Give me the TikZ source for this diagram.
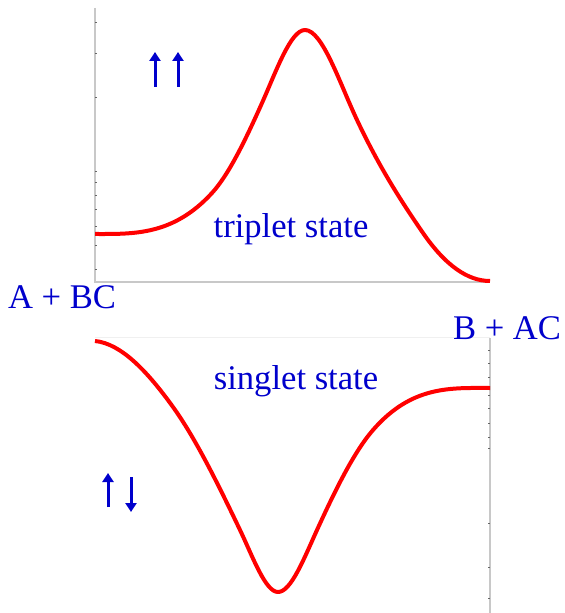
\documentclass[tikz,border=0pt]{standalone}
\usepackage{fontspec}
\setmainfont{Liberation Serif}
\usetikzlibrary{arrows.meta}
\definecolor{spinblue}{RGB}{0,0,204}
\definecolor{axisgray}{RGB}{200,200,200}
\begin{document}
\begin{tikzpicture}[x=0.5pt, y=-0.5pt,
    label/.style={text=spinblue, font=\fontsize{17.3}{20}\selectfont, inner sep=0pt},
    curve/.style={red, line width=2pt, line join=round},
    axis/.style={axisgray, line width=1pt},
    spin/.style={spinblue, line width=1.5pt, -{Triangle[width=5.5pt,length=4.5pt]}}]
      \useasboundingbox (0,0) rectangle (564,613);

      % Draw axes of the upper panel
      \draw[axis] (95,8) -- (95,282) -- (490,282);
      % Draw axes of the lower panel
      \draw[black!6, line width=0.5pt] (95,338) -- (490,338);
      \draw[axis] (490,338) -- (490,613);
      % Tick marks
      \foreach \y in {23,54,98,172,183,196,210,227,246,270}
        \draw[black!60, line width=0.5pt] (95,\y) -- (97,\y);
      \foreach \y in {350,363,377,395,408,423,437,448,523,567,598}
        \draw[black!60, line width=0.5pt] (488,\y) -- (490,\y);

      % Triplet curve
      \draw[curve] (95,234) .. controls (134,234) and (173,235.5) .. (212,193)
        .. controls (228.67,174.8) and (245.33,140.33) .. (262,103)
        .. controls (276.33,70.9) and (290.67,30) .. (305,30)
        .. controls (322.33,30) and (339.67,83.25) .. (357,120)
        .. controls (379,166.64) and (401,201.1) .. (423,233)
        .. controls (445.33,265.38) and (467.67,281) .. (490,281);

      % Singlet curve
      \draw[curve] (95,341) .. controls (121,343.6) and (147,370.86) .. (173,407)
        .. controls (195.33,438.04) and (217.67,483.33) .. (240,530)
        .. controls (252.67,556.47) and (265.33,592) .. (278,592)
        .. controls (291,592) and (304,558.47) .. (317,530)
        .. controls (335.67,489.12) and (354.33,451.47) .. (373,430)
        .. controls (412,385.15) and (451,388) .. (490,388);

      % Spins
      \draw[spin] (155,87) -- (155,52);
      \draw[spin] (178,87) -- (178,52);
      \draw[spin] (108,507) -- (108,473);
      \draw[spin] (131,477) -- (131,512);

      % Labels
      \node[label] (triplet) at (291,229) {triplet state};
      \node[label] (singlet) at (296,381) {singlet state};
      \node[label] (reac) at (62,297) {A + BC};
      \node[label] (prod) at (507,328) {B + AC};
    \end{tikzpicture}
\end{document}
